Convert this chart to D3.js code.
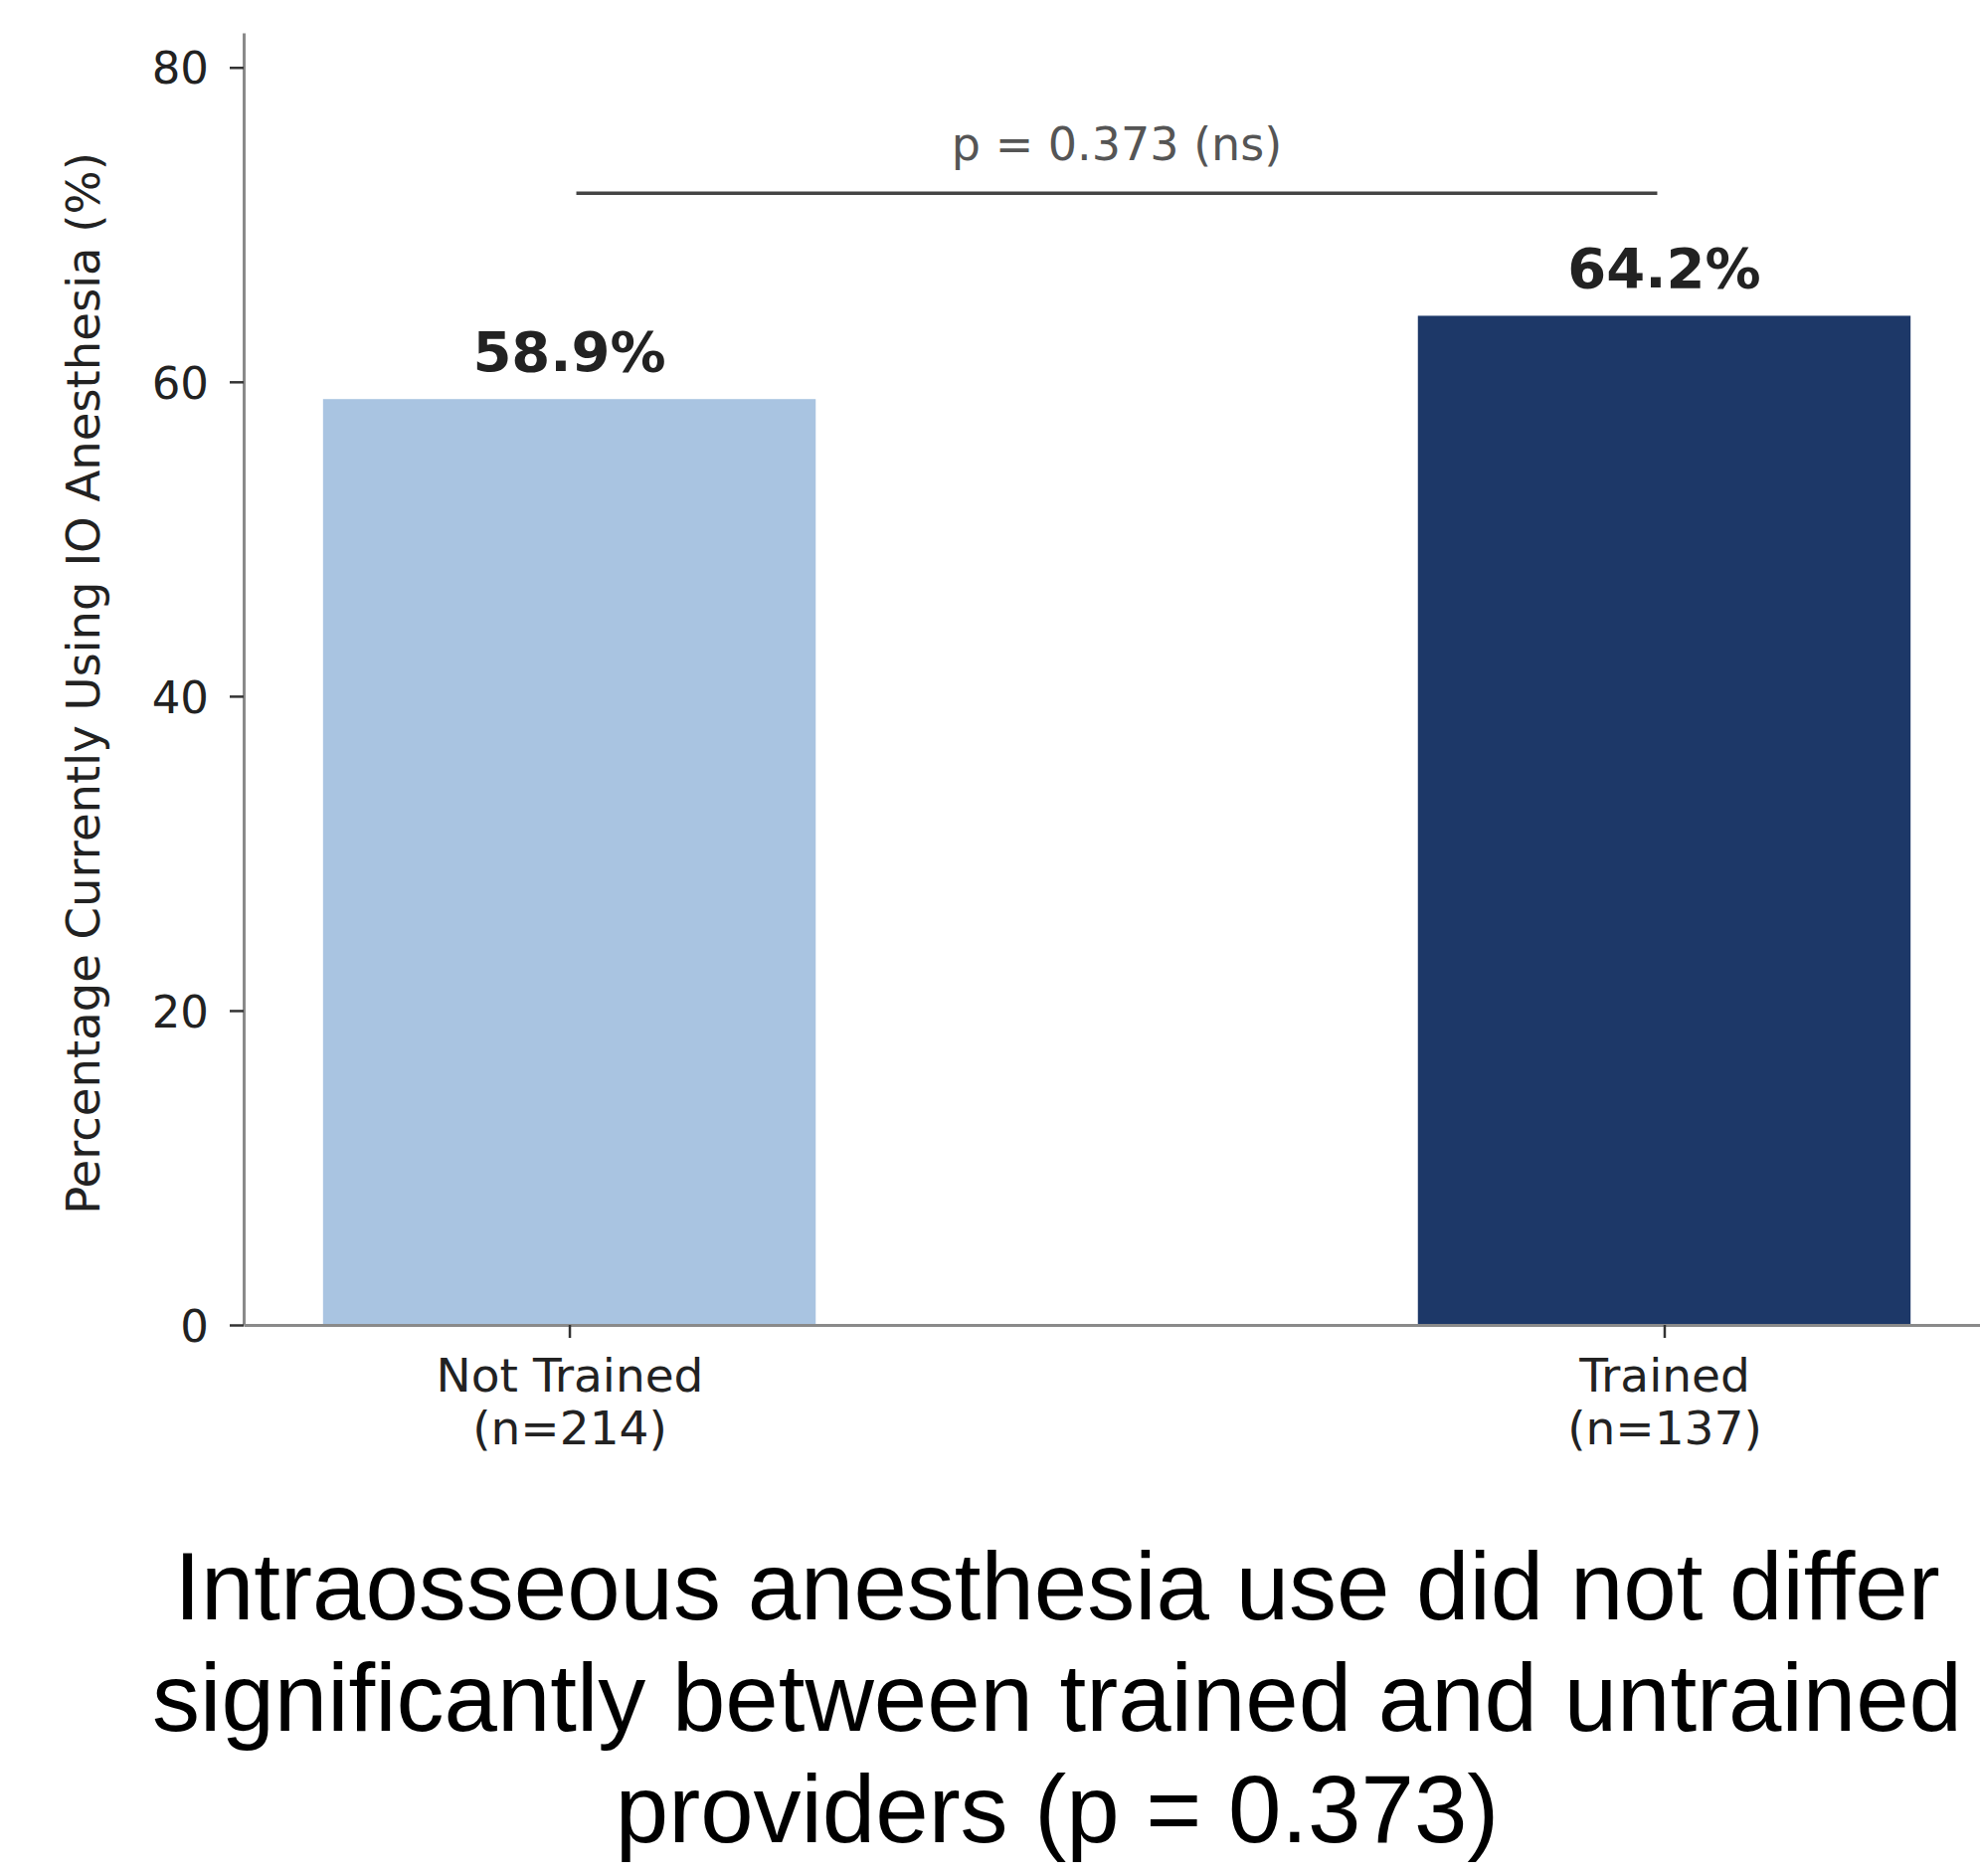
<!DOCTYPE html>
<html>
<head>
<meta charset="utf-8">
<script src="https://cdn.jsdelivr.net/npm/d3@7"></script>
<style>
  body { margin: 0; background: #ffffff; }
  svg { display: block; }
</style>
</head>
<body>
<svg id="chart" width="1991" height="1886"></svg>
<script>
// chart data
var groups = ["Not Trained", "Trained"];
var groupN = [214, 137];
var pctUsing = [58.9, 64.2];
var barColors = ["#a9c4e1", "#1d3868"];
var yTicks = [0, 20, 40, 60, 80];
var pValue = 0.373;
var titleLines = [
    "Intraosseous anesthesia use did not differ",
    "significantly between trained and untrained",
    "providers (p = 0.373)"
];

var barWidth = 0.45;
var svg = d3.select('#chart');

var x = d3.scaleLinear()
    .domain([-0.2975, 1.2975])
    .range([245, 2001]);
var y = d3.scaleLinear()
    .domain([0, 82.2])
    .range([1332, 33]);

// bars
svg.selectAll('rect.bar')
    .data(pctUsing)
    .enter()
    .append('rect')
    .attr('class', 'bar')
    .attr('x', function(d, i) { return x(i - barWidth / 2); })
    .attr('width', function() { return x(barWidth) - x(0); })
    .attr('y', function(d) { return y(d); })
    .attr('height', function(d) { return y(0) - y(d); })
    .attr('fill', function(d, i) { return barColors[i]; });

// y axis
var yAxis = svg.append('g')
    .attr('transform', 'translate(' + x.range()[0] + ',0)')
    .call(d3.axisLeft(y).tickValues(yTicks).tickSize(14).tickPadding(21).tickSizeOuter(0));

// x axis
var xAxis = svg.append('g')
    .attr('transform', 'translate(0,' + y(0) + ')')
    .call(d3.axisBottom(x).tickValues(d3.range(groups.length)).tickSize(13).tickSizeOuter(0).tickFormat(''));

[yAxis, xAxis].forEach(function(ax) {
    ax.select('.domain').attr('stroke', '#8a8a8a').attr('stroke-width', 3);
    ax.selectAll('.tick line').attr('stroke', '#333').attr('stroke-width', 2.5);
});
yAxis.selectAll('.tick text')
    .attr('font-family', 'DejaVu Sans')
    .attr('font-size', 45)
    .attr('fill', '#222')
    .attr('dy', '0.36em');

xAxis.selectAll('.tick text').remove();
xAxis.selectAll('.tick')
    .append('text')
    .attr('font-family', 'DejaVu Sans')
    .attr('font-size', 47)
    .attr('fill', '#222')
    .attr('text-anchor', 'middle')
    .each(function(d, i) {
        var t = d3.select(this);
        t.append('tspan').attr('x', 0).attr('y', 67).text(groups[i]);
        t.append('tspan').attr('x', 0).attr('y', 120).text('(n=' + groupN[i] + ')');
    });

// value labels
svg.selectAll('text.val')
    .data(pctUsing)
    .enter()
    .append('text')
    .attr('class', 'val')
    .attr('x', function(d, i) { return x(i); })
    .attr('y', function(d) { return y(d) - 28; })
    .attr('text-anchor', 'middle')
    .attr('font-family', 'DejaVu Sans')
    .attr('font-weight', 'bold')
    .attr('font-size', 56)
    .attr('fill', '#222')
    .text(function(d) { return d.toFixed(1) + '%'; });

// significance bracket
var bracketY = 72;
svg.append('line')
    .attr('x1', x(0) + 7).attr('x2', x(1) - 7)
    .attr('y1', y(bracketY)).attr('y2', y(bracketY))
    .attr('stroke', '#444')
    .attr('stroke-width', 3.5);
svg.append('text')
    .attr('x', (x(0) + x(1)) / 2)
    .attr('y', y(bracketY) - 33)
    .attr('text-anchor', 'middle')
    .attr('font-family', 'DejaVu Sans')
    .attr('font-size', 46)
    .attr('fill', '#555')
    .text('p = ' + pValue.toFixed(3) + ' (ns)');

// y label
svg.append('text')
    .attr('transform', 'translate(100,687) rotate(-90)')
    .attr('text-anchor', 'middle')
    .attr('font-family', 'DejaVu Sans')
    .attr('font-size', 46.5)
    .attr('fill', '#222')
    .text('Percentage Currently Using IO Anesthesia (%)');

// caption below
svg.append('text')
    .attr('text-anchor', 'middle')
    .attr('font-family', 'Liberation Sans, Arial, sans-serif')
    .attr('font-size', 96)
    .attr('fill', '#000')
    .selectAll('tspan')
    .data(titleLines)
    .enter()
    .append('tspan')
    .attr('x', 1063)
    .attr('y', function(d, i) { return 1628 + i * 112; })
    .text(function(d) { return d; });
</script>
</body>
</html>
